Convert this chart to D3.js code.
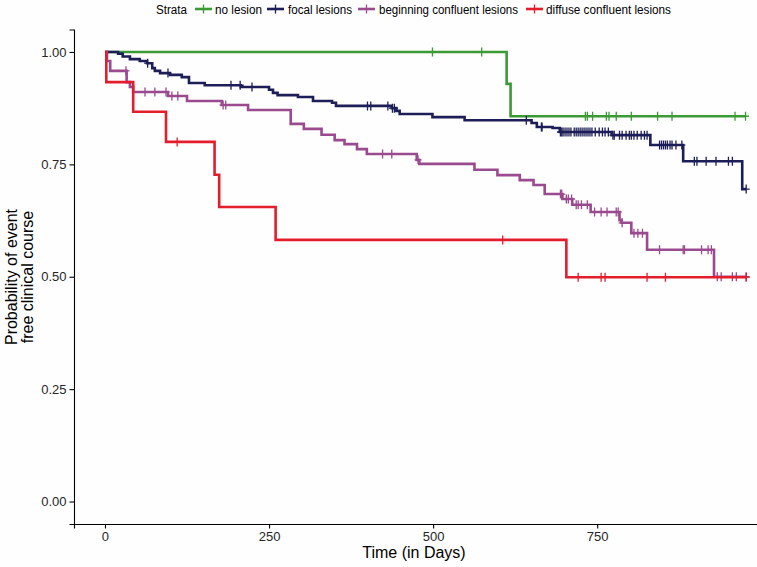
<!DOCTYPE html>
<html>
<head>
<meta charset="utf-8">
<script src="https://cdn.jsdelivr.net/npm/d3@7/dist/d3.min.js"></script>
<style>
  html, body { margin: 0; padding: 0; background: #ffffff; }
  svg { display: block; }
  text { font-family: "Liberation Sans", Arial, Helvetica, sans-serif; }
</style>
</head>
<body>
<svg id="chart" width="757" height="567"></svg>
<script>
// ---------------- data ----------------
const strataNames = ["no lesion", "focal lesions", "beginning confluent lesions", "diffuse confluent lesions"];
const strataColors = ["#3a9a34", "#1d1d58", "#9a4a8e", "#e31d2c"];

// no lesion
const noLesionTimes = [612, 618];
const noLesionSurv = [0.929, 0.857];
const noLesionCensor = [499, 574, 732, 735, 743, 764, 768, 779, 802, 842, 864, 960, 976];

// focal lesions
const focalTimes = [20, 27, 38, 53, 64, 72, 76, 84, 99, 117, 128, 152, 207, 250, 256, 263, 294, 317, 346, 352,
  437, 444, 449, 499, 548, 650, 658, 682, 693, 772, 831, 881, 971];
const focalSurv = [0.996, 0.990, 0.984, 0.980, 0.975, 0.964, 0.958, 0.953, 0.949, 0.944, 0.931, 0.926, 0.922,
  0.916, 0.909, 0.904, 0.900, 0.891, 0.887, 0.880, 0.875, 0.869, 0.862, 0.855, 0.848, 0.842, 0.833, 0.831,
  0.822, 0.815, 0.793, 0.757, 0.695];
const focalCensor = [65, 96, 192, 206, 224, 400, 405, 431, 438, 441, 642, 665, 666,
  694, 696, 698, 701, 704, 707, 710, 715, 718, 721, 724, 727, 730, 733, 736, 739, 742, 747, 753, 758, 762, 767,
  774, 776, 784, 788, 794, 799, 802, 806, 811, 817, 822, 826,
  845, 848, 851, 854, 857, 861, 864, 870, 879,
  898, 902, 916, 931, 950, 956, 977];

// beginning confluent lesions
const beginTimes = [3, 8, 33, 38, 43, 96, 125, 178, 218, 283, 303, 330, 350, 365, 384, 399, 475, 479, 563, 598,
  632, 653, 670, 697, 712, 740, 784, 787, 802, 826, 928];
const beginSurv = [0.980, 0.958, 0.933, 0.922, 0.911, 0.902, 0.891, 0.882, 0.871, 0.840, 0.829, 0.816, 0.804,
  0.795, 0.784, 0.773, 0.760, 0.751, 0.738, 0.726, 0.715, 0.704, 0.684, 0.673, 0.660, 0.644, 0.626, 0.620,
  0.597, 0.560, 0.500];
const beginCensor = [32, 61, 76, 93, 102, 111, 180, 184, 423, 437, 477, 694, 696, 703, 706, 711, 718, 721, 726,
  735, 746, 756, 765, 779, 782, 788, 806, 812, 819, 845, 881, 883, 909, 919, 924, 933, 939, 956, 962, 977];

// diffuse confluent lesions
const diffuseTimes = [2, 43, 93, 167, 174, 260, 703];
const diffuseSurv = [0.933, 0.867, 0.800, 0.727, 0.655, 0.582, 0.499];
const diffuseCensor = [110, 606, 721, 756, 762, 826, 854, 977];

const xTicks = [0, 250, 500, 750];
const yTicks = [0, 0.25, 0.5, 0.75, 1];
const yTickLabels = ["0.00", "0.25", "0.50", "0.75", "1.00"];

const seriesTimes = [noLesionTimes, focalTimes, beginTimes, diffuseTimes];
const seriesSurv = [noLesionSurv, focalSurv, beginSurv, diffuseSurv];
const seriesCensor = [noLesionCensor, focalCensor, beginCensor, diffuseCensor];

// ---------------- chart ----------------
const svg = d3.select("#chart");
const W = 757, H = 567;
svg.append("rect").attr("width", W).attr("height", H).attr("fill", "#fefefe");

const panel = { left: 74, right: 757, top: 29.5, bottom: 524 };
const x = d3.scaleLinear().domain([-47.2, 993.5]).range([panel.left, panel.right]);
const y = d3.scaleLinear().domain([-0.05, 1.05]).range([panel.bottom, panel.top]);

function survAt(times, surv, t) {
  let s = 1;
  for (let i = 0; i < times.length; i++) { if (times[i] <= t) s = surv[i]; }
  return s;
}

// axes
const xAxis = d3.axisBottom(x).tickValues(xTicks).tickSizeOuter(0).tickSize(4.5).tickPadding(3.5)
  .tickFormat(d3.format("d"));
const gx = svg.append("g").attr("transform", `translate(0,${panel.bottom})`).call(xAxis);
const yAxis = d3.axisLeft(y).tickValues(yTicks).tickSizeOuter(0).tickSize(4.5).tickPadding(3)
  .tickFormat((d, i) => yTickLabels[i]);
const gy = svg.append("g").attr("transform", `translate(${panel.left},0)`).call(yAxis);
[gx, gy].forEach(g => {
  g.select(".domain").attr("stroke", "#000").attr("stroke-width", 1.1);
  g.selectAll(".tick line").attr("stroke", "#000").attr("stroke-width", 1.1);
  g.selectAll(".tick text").attr("fill", "#262626").style("font-size", "13px")
    .style("font-family", "'Liberation Sans', Arial, sans-serif");
});

// curves
const line = d3.line().x(d => x(d[0])).y(d => y(d[1])).curve(d3.curveStepAfter);
const curvesG = svg.append("g");
seriesTimes.forEach((times, k) => {
  const surv = seriesSurv[k];
  const cens = seriesCensor[k];
  const endT = Math.max(d3.max(times), d3.max(cens));
  const pts = [[0, 1]];
  times.forEach((t, i) => pts.push([t, surv[i]]));
  pts.push([endT, surv[surv.length - 1]]);
  const g = curvesG.append("g");
  g.append("path").datum(pts).attr("d", line).attr("fill", "none")
    .attr("stroke", strataColors[k]).attr("stroke-width", 2.6).attr("stroke-linejoin", "miter");
  g.selectAll("path.cens").data(cens).enter().append("path").attr("class", "cens")
    .attr("d", t => {
      const cx = x(t), cy = y(survAt(times, surv, t));
      return `M${cx},${cy - 4.5}L${cx},${cy + 4.5}M${cx - 3.5},${cy}L${cx + 3.5},${cy}`;
    })
    .attr("stroke", strataColors[k]).attr("stroke-width", 1.3).attr("fill", "none");
});

// axis titles
svg.append("text").attr("x", 414).attr("y", 558).attr("text-anchor", "middle")
  .style("font-size", "16px").attr("fill", "#000").text("Time (in Days)");
const yt = svg.append("text").attr("transform", "translate(0,277) rotate(-90)")
  .attr("text-anchor", "middle").style("font-size", "16px").attr("fill", "#000");
yt.append("tspan").attr("x", 0).attr("y", 17).text("Probability of event");
yt.append("tspan").attr("x", 0).attr("y", 32.5).text("free clinical course");

// legend
const legY = 9;
const legendTitle = "Strata";
svg.append("text").attr("x", 156).attr("y", legY + 4.5).style("font-size", "12.5px")
  .attr("textLength", 31).attr("lengthAdjust", "spacingAndGlyphs").text(legendTitle);
const keyX = [195, 267, 358, 526];
const labelX = [215, 288, 379, 546];
const labelW = [47, 64, 139, 125];
strataNames.forEach((name, k) => {
  const kx = keyX[k];
  svg.append("line").attr("x1", kx).attr("x2", kx + 17).attr("y1", legY).attr("y2", legY)
    .attr("stroke", strataColors[k]).attr("stroke-width", 2.6);
  svg.append("line").attr("x1", kx + 8.5).attr("x2", kx + 8.5).attr("y1", legY - 4.5).attr("y2", legY + 4.5)
    .attr("stroke", strataColors[k]).attr("stroke-width", 1.3);
  svg.append("text").attr("x", labelX[k]).attr("y", legY + 4.5).style("font-size", "12.5px")
    .attr("textLength", labelW[k]).attr("lengthAdjust", "spacingAndGlyphs").attr("fill", "#000").text(name);
});
</script>
</body>
</html>
